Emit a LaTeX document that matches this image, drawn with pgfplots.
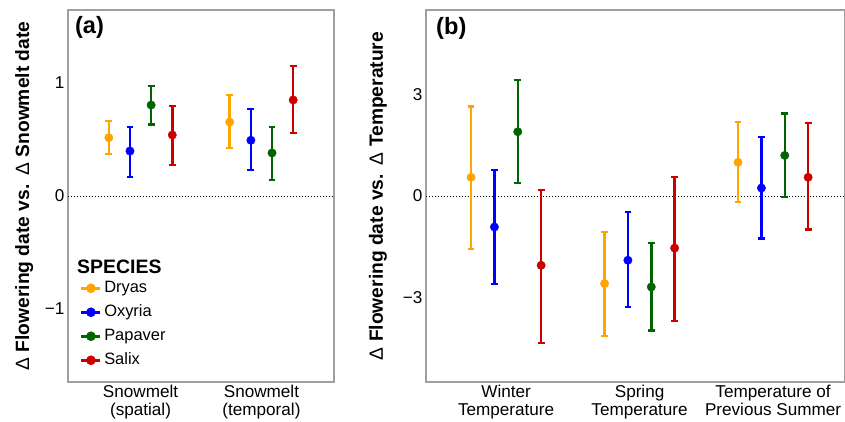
\documentclass[border=0pt]{standalone}
\usepackage{fontspec}
\setmainfont{Liberation Sans}
\usepackage{pgfplots}
\usepackage{pgfplotstable}
\pgfplotsset{compat=1.18}

\definecolor{cDry}{RGB}{255,165,0}
\definecolor{cOxy}{RGB}{0,0,255}
\definecolor{cPap}{RGB}{0,100,0}
\definecolor{cSal}{RGB}{205,0,0}
\definecolor{frame}{RGB}{160,160,160}

% estimate, lower and upper limit per species (d=Dryas, o=Oxyria, p=Papaver, s=Salix)
\pgfplotstableread{
cat dy dlo dhi oy olo ohi py plo phi sy slo shi
1 0.516 0.372 0.664 0.398 0.168 0.613 0.805 0.634 0.976 0.540 0.277 0.796
2 0.655 0.422 0.891 0.493 0.227 0.770 0.381 0.142 0.613 0.850 0.555 1.150
}\snowtab
\pgfplotstableread{
cat dy dlo dhi oy olo ohi py plo phi sy slo shi
1 0.553 -1.570 2.650 -0.916 -2.600 0.769 1.900 0.384 3.420 -2.050 -4.350 0.187
2 -2.590 -4.150 -1.055 -1.900 -3.290 -0.483 -2.690 -3.980 -1.380 -1.540 -3.700 0.553
3 0.996 -0.177 2.180 0.236 -1.260 1.750 1.200 -0.020 2.440 0.553 -0.995 2.150
}\temptab

\newcommand{\ci}[4]{%
\addplot[#4, only marks, mark=*, mark size=4.2bp,
  legend image code/.code={\draw[#4,line width=2.6bp] (0bp,0bp) -- (19bp,0bp); \fill[#4] (9.5bp,0bp) circle (4.6bp);},
  error bars/.cd, y dir=both, y explicit,
  error bar style={line width=2.5bp,#4}, error mark options={rotate=90,line width=2.3bp,mark size=3.4bp,#4}]
  table[x expr=\thisrow{cat}+#3, y=#2y, y error plus expr=\thisrow{#2hi}-\thisrow{#2y}, y error minus expr=\thisrow{#2y}-\thisrow{#2lo}] {#1};}

\pgfplotsset{panel/.style={scale only axis, height=372bp, anchor=south west,
  axis line style={draw=frame, line width=1.1bp}, major tick length=0pt, tick style={draw=none},
  /pgf/number format/assume math mode=true,
  ticklabel style={font=\fontsize{17.2}{17.7}\selectfont},
  xticklabel style={align=center},
  ylabel style={font=\bfseries\fontsize{19.3}{20}\selectfont, anchor=center}}}

\newcommand{\D}{{\mdseries Δ}\ }

\begin{document}
\begin{tikzpicture}
\begin{axis}[panel, at={(68bp,40bp)}, width=266bp, xmin=0.4, xmax=2.6, ymin=-1.646, ymax=1.646,
  ytick={-1,0,1}, yticklabels={−1,0,1}, xtick={1,2},
  xticklabels={{Snowmelt\\(spatial)},{Snowmelt\\(temporal)}},
  ylabel={\D Flowering date vs.\hspace{9bp}\D Snowmelt date},
  ylabel style={at={(axis description cs:-0.165,0.5)}},
  legend style={at={(axis description cs:0.045,0.274)}, anchor=north west, draw=none, fill=none,
    font=\fontsize{16.5}{18}\selectfont, row sep=8bp, inner sep=0pt,
    nodes={inner ysep=0pt, inner xsep=2.5bp, text height=12bp, text depth=4bp}},
  legend cell align=left]
\addplot[black, line width=0.9bp, dash pattern=on 1bp off 2bp, forget plot] coordinates {(0.4,0) (2.6,0)};
\ci{\snowtab}{d}{-0.2625}{cDry}
\ci{\snowtab}{o}{-0.0875}{cOxy}
\ci{\snowtab}{p}{0.0875}{cPap}
\ci{\snowtab}{s}{0.2625}{cSal}
\legend{Dryas,Oxyria,Papaver,Salix}
\node[anchor=west, inner sep=0pt, font=\bfseries\fontsize{19.5}{20}\selectfont] at (rel axis cs:0.034,0.309) {SPECIES};
\node[anchor=west, inner sep=0pt, font=\bfseries\fontsize{23.7}{25}\selectfont] at (rel axis cs:0.026,0.952) {(a)};
\end{axis}
\begin{axis}[panel, at={(426bp,40bp)}, width=418.5bp, xmin=0.4, xmax=3.535, ymin=-5.5, ymax=5.5,
  ytick={-3,0,3}, yticklabels={−3,0,3}, xtick={1,2,3},
  xticklabels={{Winter\\Temperature},{Spring\\Temperature},{Temperature of\\Previous Summer}},
  ylabel={\D Flowering date vs.\hspace{9bp}\D Temperature},
  ylabel style={at={(axis description cs:-0.1147,0.5)}}]
\addplot[black, line width=0.9bp, dash pattern=on 1bp off 2bp, forget plot] coordinates {(0.4,0) (3.535,0)};
\ci{\temptab}{d}{-0.2625}{cDry}
\ci{\temptab}{o}{-0.0875}{cOxy}
\ci{\temptab}{p}{0.0875}{cPap}
\ci{\temptab}{s}{0.2625}{cSal}
\node[anchor=west, inner sep=0pt, font=\bfseries\fontsize{23.7}{25}\selectfont] at (rel axis cs:0.024,0.951) {(b)};
\end{axis}
\pgfresetboundingbox
\path[use as bounding box] (0,0) rectangle (845bp,422bp);
\end{tikzpicture}
\end{document}
